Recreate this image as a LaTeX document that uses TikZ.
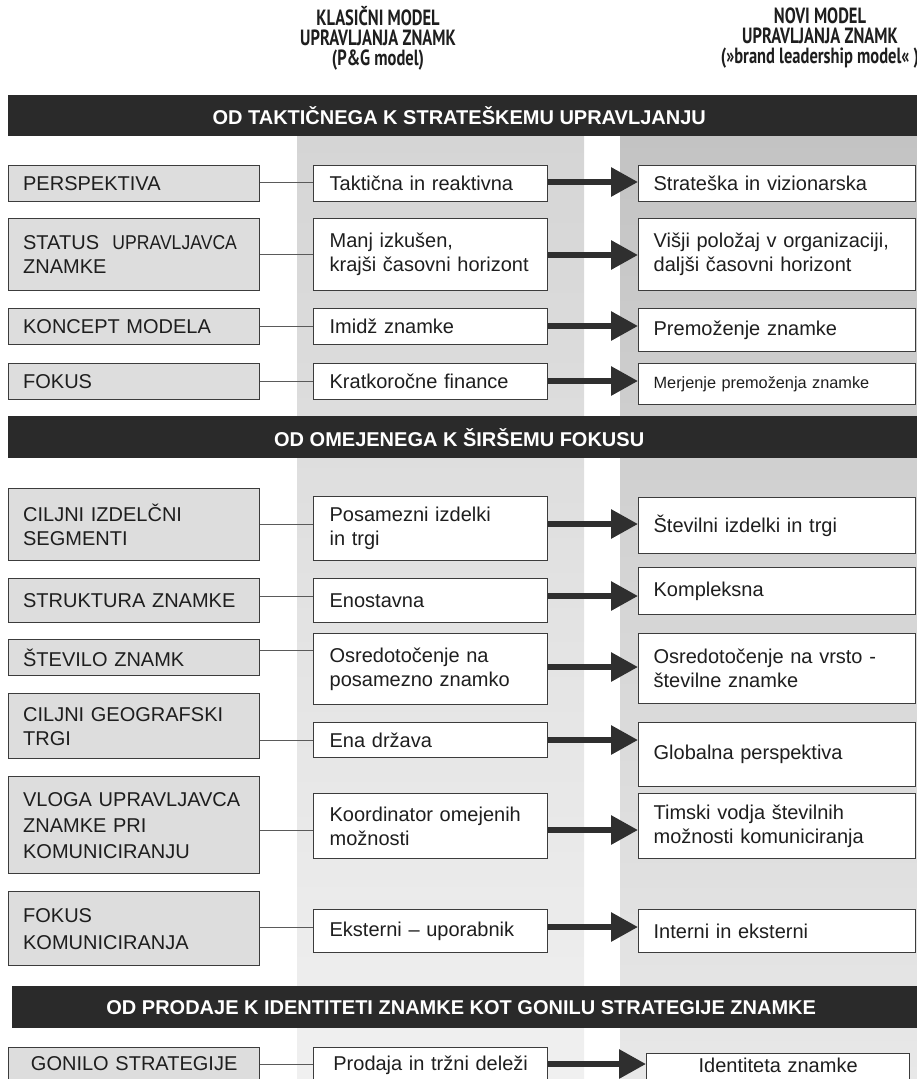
\documentclass[tikz,border=0pt]{standalone}
\usepackage{fontspec}
\setmainfont{Liberation Sans}
\newfontfamily\hdrfont{PT Sans}[FakeStretch=0.75]
\newfontfamily\narrowfont{Liberation Sans}[FakeStretch=0.88]
\usetikzlibrary{arrows.meta}

\definecolor{bandc}{HTML}{2A2A2A}
\definecolor{boxline}{HTML}{3C3C3C}
\definecolor{lgray}{HTML}{DDDDDD}
\definecolor{colAtop}{HTML}{D5D5D5}
\definecolor{colAbot}{HTML}{F0F0F0}
\definecolor{colBtop}{HTML}{C3C3C3}
\definecolor{colBbot}{HTML}{E8E8E8}
\definecolor{arrowc}{HTML}{2F2F2F}
\definecolor{connc}{HTML}{5A5A5A}
\definecolor{txt}{HTML}{1E1E1E}

\newcommand\lbl{\fontsize{20}{24}\selectfont}
\newcommand\smalllbl{\fontsize{16.3}{20}\selectfont}

\begin{document}
\begin{tikzpicture}[x=1pt,y=-1pt,
  base/.style={draw=boxline, line width=1.3pt, anchor=north west,
    inner ysep=0pt, inner xsep=16pt, align=left, font=\lbl, text=txt},
  lbox/.style={base, fill=lgray, inner xsep=14.5pt, text width=222pt},
  mbox/.style={base, fill=white, text width=202pt},
  rbox/.style={base, fill=white, inner xsep=15pt, text width=247pt},
  lastrow/.style={align=center, text height=14pt, text depth=30pt},
  band/.style={fill=bandc, anchor=north west, minimum width=909pt,
    minimum height=41pt, inner sep=0pt, text=white,
    font=\fontsize{20}{24}\selectfont\bfseries},
  header/.style={align=center, font=\hdrfont\bfseries\fontsize{22}{20}\selectfont, text=txt},
  conn/.style={draw=connc, line width=1pt},
  bigarrow/.style={draw=arrowc, line width=6pt,
    -{Triangle[length=27pt,width=28pt]}}
]
\useasboundingbox (0,0) rectangle (917,1079);
\clip (0,0) rectangle (917,1079);

% column backgrounds
\fill[top color=colAtop, bottom color=colAbot] (297,135) rectangle (584,1079);
\fill[top color=colBtop, bottom color=colBbot] (620,135) rectangle (917,1079);

% column headings
\node[header] (h1) at (378,38) {KLASIČNI MODEL\\UPRAVLJANJA ZNAMK\\(P\&G model)};
\node[header] (h2) at (820,38) {NOVI MODEL\\UPRAVLJANJA ZNAMK\\(»brand leadership model« )};

% section bands
\node[band] (b1) at (8,95) {\hspace*{-7pt}OD TAKTIČNEGA K STRATEŠKEMU UPRAVLJANJU};
\node[band, minimum height=42pt] (b2) at (8,416) {\hspace*{-7pt}OD OMEJENEGA K ŠIRŠEMU FOKUSU};
\node[band, minimum width=905pt, minimum height=42pt] (b3) at (12,986) {\hspace*{-7pt}OD PRODAJE K IDENTITETI ZNAMKE KOT GONILU STRATEGIJE ZNAMKE};

% row 1
\node[lbox, minimum height=36pt] (l1) at (8,165) {PERSPEKTIVA};
\node[mbox, minimum height=36pt] (m1) at (313,165) {Taktična in reaktivna};
\node[rbox, minimum height=36pt] (r1) at (638,165) {Strateška in vizionarska};
\draw[conn] (l1.east |- 0,182) -- (m1.west |- 0,182);
\draw[bigarrow] (m1.east |- 0,182) -- (r1.west |- 0,182);

% row 2
\node[lbox, minimum height=72pt] (l2) at (8,218) {STATUS\ \ {\narrowfont UPRAVLJAVCA}\\ZNAMKE};
\node[mbox, minimum height=72pt] (m2) at (313,218) {Manj izkušen,\\krajši časovni horizont};
\node[rbox, minimum height=72pt] (r2) at (638,218) {Višji položaj v organizaciji,\\daljši časovni horizont};
\draw[conn] (l2.east |- 0,254) -- (m2.west |- 0,254);
\draw[bigarrow] (m2.east |- 0,255) -- (r2.west |- 0,255);

% row 3
\node[lbox, minimum height=36pt] (l3) at (8,308) {KONCEPT MODELA};
\node[mbox, minimum height=36pt] (m3) at (313,308) {Imidž znamke};
\node[rbox, minimum height=43pt] (r3) at (638,308) {Premoženje znamke};
\draw[conn] (l3.east |- 0,326) -- (m3.west |- 0,326);
\draw[bigarrow] (m3.east |- 0,326) -- (r3.west |- 0,326);

% row 4
\node[lbox, minimum height=36pt] (l4) at (8,363) {FOKUS};
\node[mbox, minimum height=36pt] (m4) at (313,363) {Kratkoročne finance};
\node[rbox, minimum height=41pt, font=\smalllbl] (r4) at (638,363) {Merjenje premoženja znamke};
\draw[conn] (l4.east |- 0,381) -- (m4.west |- 0,381);
\draw[bigarrow] (m4.east |- 0,381) -- (r4.west |- 0,381);

% row 5
\node[lbox, minimum height=72pt] (l5) at (8,488) {CILJNI IZDELČNI\\SEGMENTI};
\node[mbox, minimum height=64pt] (m5) at (313,496) {Posamezni izdelki\\in trgi};
\node[rbox, minimum height=56pt] (r5) at (638,497) {Številni izdelki in trgi};
\draw[conn] (l5.east |- 0,524) -- (m5.west |- 0,524);
\draw[bigarrow] (m5.east |- 0,524) -- (r5.west |- 0,524);

% row 6
\node[lbox, minimum height=44pt] (l6) at (8,578) {STRUKTURA ZNAMKE};
\node[mbox, minimum height=44pt] (m6) at (313,578) {Enostavna};
\node[rbox, minimum height=47pt] (r6) at (638,567) {Kompleksna};
\draw[conn] (l6.east |- 0,596) -- (m6.west |- 0,596);
\draw[bigarrow] (m6.east |- 0,596) -- (r6.west |- 0,596);

% row 7
\node[lbox, minimum height=36pt] (l7) at (8,639) {ŠTEVILO ZNAMK};
\node[mbox, minimum height=71pt] (m7) at (313,633) {Osredotočenje na\\posamezno znamko};
\node[rbox, minimum height=70pt] (r7) at (638,633) {Osredotočenje na vrsto -\\številne znamke};
\draw[conn] (l7.east |- 0,650) -- (m7.west |- 0,650);
\draw[bigarrow] (m7.east |- 0,667) -- (r7.west |- 0,667);

% row 8
\node[lbox, minimum height=65pt] (l8) at (8,693) {CILJNI GEOGRAFSKI\\TRGI};
\node[mbox, minimum height=35pt] (m8) at (313,722) {Ena država};
\node[rbox, minimum height=64pt] (r8) at (638,722) {Globalna perspektiva};
\draw[conn] (l8.east |- 0,740) -- (m8.west |- 0,740);
\draw[bigarrow] (m8.east |- 0,740) -- (r8.west |- 0,740);

% row 9
\node[lbox, minimum height=97pt, font=\fontsize{20}{26}\selectfont] (l9) at (8,776) {VLOGA UPRAVLJAVCA\\ZNAMKE PRI\\KOMUNICIRANJU};
\node[mbox, minimum height=65pt] (m9) at (313,793) {Koordinator omejenih\\možnosti};
\node[rbox, minimum height=65pt] (r9) at (638,793) {Timski vodja številnih\\možnosti komuniciranja};
\draw[conn] (l9.east |- 0,830) -- (m9.west |- 0,830);
\draw[bigarrow] (m9.east |- 0,830) -- (r9.west |- 0,830);

% row 10
\node[lbox, minimum height=74pt, font=\fontsize{20}{27}\selectfont] (l10) at (8,891) {FOKUS\\KOMUNICIRANJA};
\node[mbox, minimum height=43pt] (m10) at (313,909) {Eksterni – uporabnik};
\node[rbox, minimum height=43pt] (r10) at (638,909) {Interni in eksterni};
\draw[conn] (l10.east |- 0,927) -- (m10.west |- 0,927);
\draw[bigarrow] (m10.east |- 0,927) -- (r10.west |- 0,927);

% row 11
\node[lbox, lastrow, inner ysep=9pt] (l11) at (8,1047) {GONILO STRATEGIJE};
\node[mbox, lastrow, inner ysep=9pt] (m11) at (313,1047) {Prodaja in tržni deleži};
\node[rbox, lastrow, inner ysep=5pt, text width=233pt] (r11) at (646,1053) {Identiteta znamke};
\draw[conn] (l11.east |- 0,1064) -- (m11.west |- 0,1064);
\draw[bigarrow] (m11.east |- 0,1064) -- (r11.west |- 0,1064);
\end{tikzpicture}
\end{document}
